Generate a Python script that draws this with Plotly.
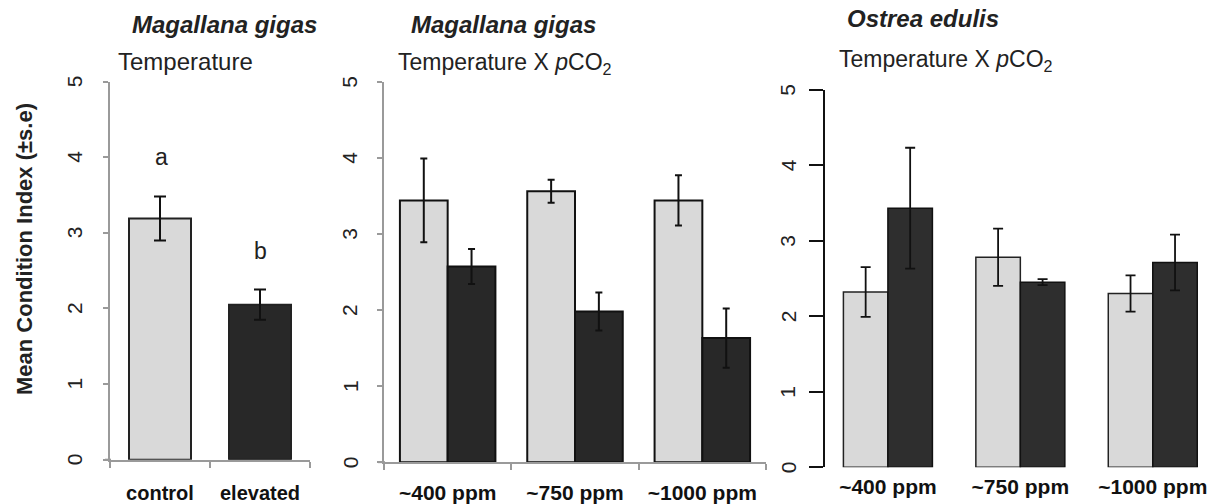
import plotly.graph_objects as go

# ---------------- data ----------------
temp_cats = ["control", "elevated"]
temp_mean = [3.19, 2.05]
temp_se = [0.29, 0.20]

co2_cats = ["~400 ppm", "~750 ppm", "~1000 ppm"]
gigas_ctrl_mean = [3.44, 3.56, 3.44]
gigas_ctrl_se = [0.55, 0.15, 0.33]
gigas_elev_mean = [2.57, 1.98, 1.63]
gigas_elev_se = [0.23, 0.25, 0.39]

edulis_ctrl_mean = [2.32, 2.78, 2.30]
edulis_ctrl_se = [0.33, 0.38, 0.24]
edulis_elev_mean = [3.43, 2.45, 2.71]
edulis_elev_se = [0.80, 0.04, 0.37]

y_ticks = [0, 1, 2, 3, 4, 5]
y_tick_text = ["0", "1", "2", "3", "4", "5"]

LIGHT = "#d9d9d9"
DARK = "#282828"
FONT = "Arial, Liberation Sans, sans-serif"
W, H = 1221, 504

fig = go.Figure()

# Panel 1
fig.add_trace(go.Bar(
    x=temp_cats, y=temp_mean, width=0.62,
    marker=dict(color=[LIGHT, DARK], line=dict(color="#222", width=2)),
    error_y=dict(type="data", array=temp_se, color="#111", thickness=2, width=6),
    xaxis="x", yaxis="y", showlegend=False))

# Panel 2
fig.add_trace(go.Bar(
    x=co2_cats, y=gigas_ctrl_mean, width=0.375, offset=-0.375,
    marker=dict(color=LIGHT, line=dict(color="#111", width=2)),
    error_y=dict(type="data", array=gigas_ctrl_se, color="#111", thickness=2, width=3.5),
    xaxis="x2", yaxis="y2", showlegend=False))
fig.add_trace(go.Bar(
    x=co2_cats, y=gigas_elev_mean, width=0.375, offset=0,
    marker=dict(color=DARK, line=dict(color="#111", width=2)),
    error_y=dict(type="data", array=gigas_elev_se, color="#111", thickness=2, width=3.5),
    xaxis="x2", yaxis="y2", showlegend=False))

# Panel 3
fig.add_trace(go.Bar(
    x=co2_cats, y=edulis_ctrl_mean, width=0.336, offset=-0.336,
    marker=dict(color=LIGHT, line=dict(color="#222", width=1.5)),
    error_y=dict(type="data", array=edulis_ctrl_se, color="#111", thickness=1.8, width=5),
    xaxis="x3", yaxis="y3", showlegend=False))
fig.add_trace(go.Bar(
    x=co2_cats, y=edulis_elev_mean, width=0.336, offset=0,
    marker=dict(color="#2e2e2e", line=dict(color="#111", width=1.5)),
    error_y=dict(type="data", array=edulis_elev_se, color="#111", thickness=1.8, width=5),
    xaxis="x3", yaxis="y3", showlegend=False))

def px_x(p):
    return p / W

def px_y(p):
    return 1 - p / H

GRAY = "#9a9a9a"

def xfont(size):
    return dict(family=FONT, size=size, color="#111")

def yax(dom, anchor, color, ticklen, lw):
    return dict(domain=dom, anchor=anchor, range=[0, 5], tickvals=y_ticks,
                showticklabels=False,
                showgrid=False, zeroline=False, showline=True, linecolor=color,
                linewidth=lw, ticks="outside", ticklen=ticklen, tickcolor=color,
                tickwidth=lw, fixedrange=True)

fig.update_layout(
    width=W, height=H,
    margin=dict(l=0, r=0, t=0, b=0),
    paper_bgcolor="white", plot_bgcolor="white",
    barmode="overlay",
    xaxis=dict(domain=[px_x(110), px_x(310)], anchor="y", type="category",
               range=[-0.5, 1.5], tickson="boundaries", ticks="outside",
               ticklen=6, tickcolor=GRAY, tickwidth=2, showline=True,
               linecolor=GRAY, linewidth=2, showgrid=False,
               tickfont=xfont(20), ticklabelstandoff=14,
               tickprefix="<b>", ticksuffix="</b>"),
    yaxis=yax([px_y(461.5), px_y(82)], "x", GRAY, 5, 2),
    xaxis2=dict(domain=[px_x(384), px_x(766)], anchor="y2", type="category",
                range=[-0.5, 2.5], tickson="boundaries", ticks="outside",
                ticklen=6, tickcolor=GRAY, tickwidth=2, showline=True,
                linecolor=GRAY, linewidth=2, showgrid=False,
                tickfont=xfont(21), ticklabelstandoff=11,
                tickprefix="<b>", ticksuffix="</b>"),
    yaxis2=yax([px_y(464), px_y(82)], "x2", GRAY, 5, 2),
    xaxis3=dict(domain=[px_x(825), px_x(1219)], anchor="y3", type="category",
                range=[-0.475, 2.5], ticks="", showline=False, showgrid=False,
                tickfont=xfont(21), ticklabelstandoff=5,
                tickprefix="<b>", ticksuffix="</b>"),
    yaxis3=yax([px_y(469), px_y(90)], "x3", "#111", 14, 1.5),
)

# short stubs where the x-axis line runs a little past the y-axis
fig.add_shape(type="line", xref="paper", yref="paper",
              x0=px_x(105), x1=px_x(111), y0=px_y(461.5), y1=px_y(461.5),
              line=dict(color=GRAY, width=2))
fig.add_shape(type="line", xref="paper", yref="paper",
              x0=px_x(378), x1=px_x(385), y0=px_y(464), y1=px_y(464),
              line=dict(color=GRAY, width=2))

ann = []
def add(text, x, y, size, xanchor="left", angle=0, yanchor="middle", yref="paper"):
    ann.append(dict(text=text, x=px_x(x), y=(px_y(y) if yref == "paper" else y),
                    xref="paper", yref=yref,
                    showarrow=False, xanchor=xanchor, yanchor=yanchor,
                    textangle=angle, font=dict(family=FONT, size=size, color="#222")))

add("<b><i>Magallana gigas</i></b>", 224, 25, 24, xanchor="center")
add("Temperature", 116, 62, 24)
add("<b><i>Magallana gigas</i></b>", 503, 25, 24, xanchor="center")
add("Temperature X <i>p</i>CO<sub>2</sub>", 396, 64, 23)
add("<b><i>Ostrea edulis</i></b>", 923, 19, 24, xanchor="center")
add("Temperature X <i>p</i>CO<sub>2</sub>", 837, 61, 23)
add("<b>Mean Condition Index (±s.e)</b>", 24, 250, 22, xanchor="center", angle=-90)
add("a", 162, 158, 23, xanchor="center")
add("b", 260, 252, 23, xanchor="center")

# rotated y tick labels placed through each panel's y scale
for v, t in zip(y_ticks, y_tick_text):
    add(t, 74.5, v, 21, xanchor="center", angle=-90, yref="y")
    add(t, 350, v, 21, xanchor="center", angle=-90, yref="y2")
    add(t, 788, v, 21, xanchor="center", angle=-90, yref="y3")

fig.update_layout(annotations=ann)

fig.write_html("out.html")
